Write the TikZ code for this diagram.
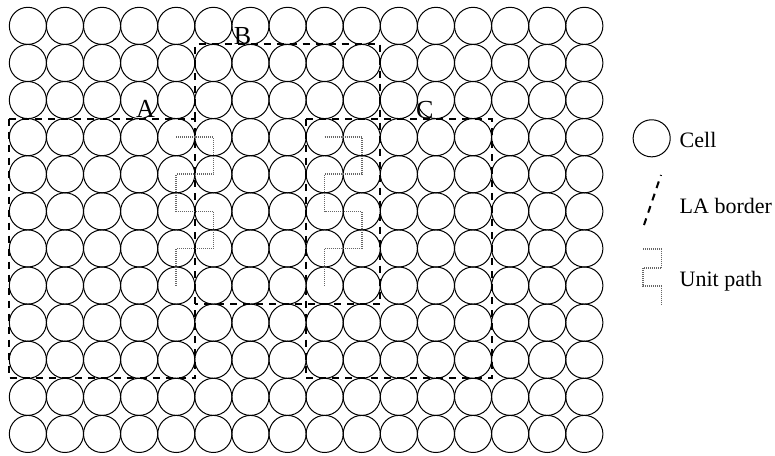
\documentclass[tikz,border=0pt]{standalone}
\usepackage{fontspec}
\setmainfont{Liberation Serif}
\usepackage{tikz}
\usetikzlibrary{positioning}
\definecolor{unitgray}{HTML}{666666}

\begin{document}
\begin{tikzpicture}[x=37.1pt,y=-37.1pt,
  cell/.style={circle,draw=black,line width=1pt,minimum size=37.1pt,inner sep=0pt},
  laline/.style={draw=black,line width=2pt,dash pattern=on 7pt off 6pt},
  unitline/.style={draw=unitgray,line width=1.6pt,dash pattern=on 1pt off 1pt},
  lalab/.style={font=\fontsize{26}{30}\selectfont,anchor=base,inner sep=0pt},
  legtxt/.style={font=\fontsize{22}{26}\selectfont,anchor=base west,inner sep=0pt}]
  \useasboundingbox (-0.251,-0.197) rectangle (20.639,12.094);
  % 16 x 12 grid of cells
  \foreach \i in {0,...,15}{
    \foreach \j in {0,...,11}{
      \node[cell] (c\i-\j) at (\i+0.5,\j+0.5) {};
    }
  }
  % location area borders (B shares its lower left edge with A)
  \draw[laline] (0,3) rectangle (5,10);
  \draw[laline] (5,3) -- (5,1) -- (10,1) -- (10,8) -- (5,8);
  \draw[laline] (8,3) rectangle (13,10);
  \node[lalab] (labA) at (3.67,2.97) {A};
  \node[lalab] (labB) at (6.29,1.0) {B};
  \node[lalab] (labC) at (11.2,2.99) {C};
  % unit paths, one per border crossing
  \foreach \s in {4,8}{
    \pgfmathtruncatemacro{\t}{\s+1}
    \draw[unitline] (c\s-3.center) -- (c\t-3.center) -- (c\t-4.center) -- (c\s-4.center)
      -- (c\s-5.center) -- (c\t-5.center) -- (c\t-6.center) -- (c\s-6.center) -- (c\s-7.center);
  }
  % legend
  \node[cell] (legcell) at (17.315,3.531) {};
  \node[legtxt] (legcelltxt) at (18.065,3.774) {Cell};
  \coordinate (legdashA) at (17.108,5.868);
  \coordinate (legdashB) at (17.566,4.520);
  \draw[laline] (legdashA) -- (legdashB);
  \node[legtxt] (legdashtxt) at (18.065,5.553) {LA border};
  \coordinate (legunit) at (17.08,6.52);
  \draw[unitline] (legunit) -- ++(0.5,0) -- ++(0,0.5) -- ++(-0.5,0) -- ++(0,0.5) -- ++(0.5,0) -- ++(0,0.5);
  \node[legtxt] (legunittxt) at (18.065,7.53) {Unit path};
\end{tikzpicture}
\end{document}
